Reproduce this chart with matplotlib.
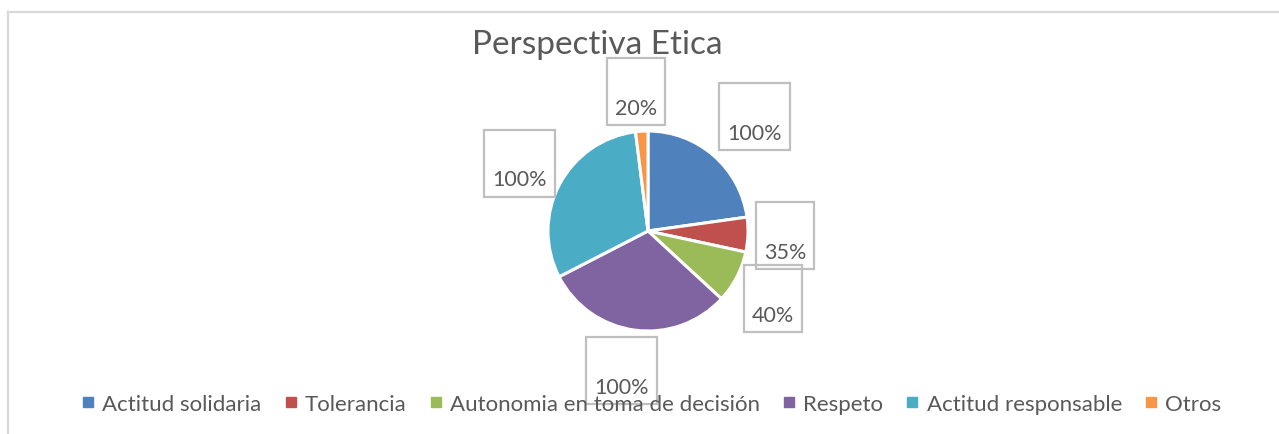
import numpy as np
import matplotlib
matplotlib.use('Agg')
import matplotlib.pyplot as plt
from matplotlib.patches import Rectangle
from matplotlib.lines import Line2D

# datos
categorias = ['Actitud solidaria', 'Tolerancia', 'Autonomia en toma de decisión',
              'Respeto', 'Actitud responsable', 'Otros']
porcentajes = [22.8, 5.6, 8.5, 30.6, 30.6, 2.0]
etiquetas = ['100%', '35%', '40%', '100%', '100%', '20%']
colores = ['#4F81BD', '#C0504D', '#9BBB59', '#8064A2', '#4BACC6', '#F79646']

# distancia de cada etiqueta al centro (en radios)
dist_etq = [1.56, 1.37, 1.42, 1.42, 1.45, 1.40]
giro_etq = [-2, 0, -1, -3, 0, 1.5]

W, H = 1279, 435
plt.rcParams['font.family'] = ['Lato', 'DejaVu Sans']
gris = '#595959'

fig = plt.figure(figsize=(W / 100, H / 100), dpi=100)

# marco del grafico
fig.add_artist(Line2D([8 / W, 8 / W], [0, 1 - 13 / H], color='#d9d9d9', lw=1.6,
                      transform=fig.transFigure))
fig.add_artist(Line2D([8 / W, 1], [1 - 13 / H, 1 - 13 / H], color='#d9d9d9', lw=1.6,
                      transform=fig.transFigure))

fig.text(597 / W, 1 - 45 / H, 'Perspectiva Etica', ha='center', va='center',
         fontsize=24, color=gris)

r = 100
cx, cy = 648, 232
ax = fig.add_axes([(cx - r) / W, (H - cy - r) / H, 2 * r / W, 2 * r / H])
wedges, _ = ax.pie(porcentajes, colors=colores, startangle=90, counterclock=False,
                   wedgeprops=dict(edgecolor='white', linewidth=2.2))
ax.set_xlim(-1, 1)
ax.set_ylim(-1, 1)
ax.axis('off')

# etiquetas de datos con recuadro
for w, txt, d, g in zip(wedges, etiquetas, dist_etq, giro_etq):
    ang = np.deg2rad((w.theta1 + w.theta2) / 2 + g)
    x, y = d * np.cos(ang), d * np.sin(ang)
    bw = (71 if len(txt) == 4 else 58) / r
    bh = 67 / r
    ax.add_patch(Rectangle((x - bw / 2, y - bh / 2), bw, bh, fill=False,
                           edgecolor='#bfbfbf', lw=1.6, clip_on=False))
    ax.text(x, y - 16 / r, txt, ha='center', va='center', fontsize=15.5,
            color=gris, clip_on=False)

handles = [Line2D([], [], marker='s', ls='', color=c, markersize=6.5) for c in colores]
fig.legend(handles, categorias, loc='center', bbox_to_anchor=(652 / W, 30 / H),
           ncol=6, frameon=False, fontsize=16, labelcolor=gris,
           handlelength=0.5, handletextpad=0.4, columnspacing=1.05)

fig.savefig('out.png', dpi=100, facecolor='white')
